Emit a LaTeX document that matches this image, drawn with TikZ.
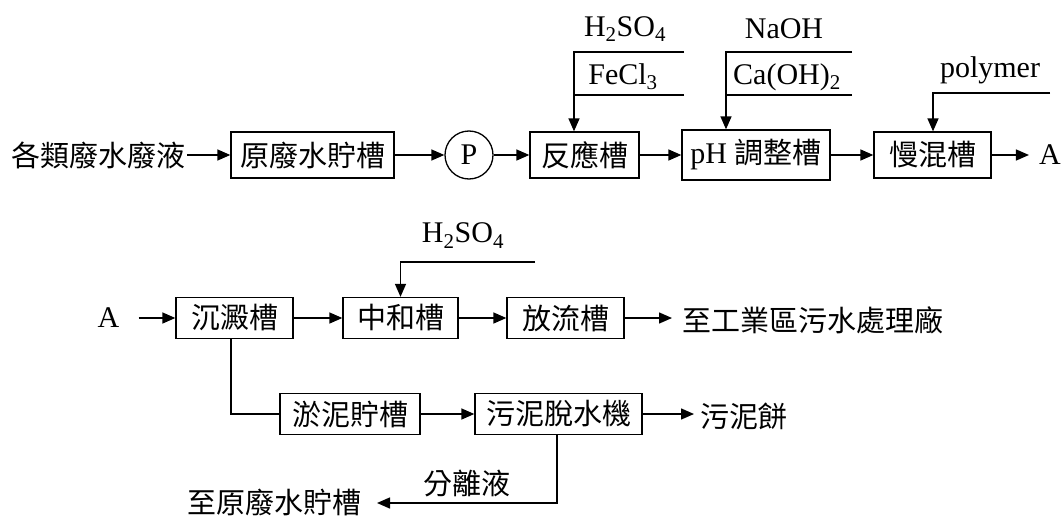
\documentclass[tikz,border=0pt]{standalone}
\usepackage{fontspec}
\setmainfont{Liberation Serif}
\newfontfamily\cjk{Noto Sans CJK TC}
\usetikzlibrary{arrows.meta}
\begin{document}
\begin{tikzpicture}[x=1pt,y=-1pt,
  every node/.style={font=\fontsize{30}{34}\selectfont, inner sep=0pt},
  zh/.style={font=\fontsize{29}{33}\selectfont\cjk},
  tank/.style={draw, line width=1.3pt, minimum height=46pt},
  tanklow/.style={draw, line width=1.3pt, minimum height=41pt},
  flow/.style={line width=1.4pt, -{Triangle[length=13pt,width=11pt]}},
  feed/.style={line width=1.4pt}]
\useasboundingbox (0,0) rectangle (1062,516);

% ---- upper line: pre-treatment ----
\node[zh] (src) at (98,155) {各類廢水廢液};
\node[tank, zh, minimum width=163pt] (raw) at (312.5,155) {原廢水貯槽};
\node[draw, circle, line width=1.3pt, minimum size=48pt] (pump) at (469,155) {P};
\node[tank, zh, minimum width=109pt] (react) at (584.5,155) {反應槽};
\node[tank, minimum width=148pt, minimum height=50pt] (ph) at (756,155) {pH {\fontsize{29}{33}\selectfont\cjk 調整槽}};
\node[tank, zh, minimum width=117pt] (slow) at (932.5,155) {慢混槽};
\node (A1) at (1050,155) {A};

\draw[flow] ([xshift=2pt]src.east) -- (raw.west);
\draw[flow] (raw.east) -- (pump.west);
\draw[flow] (pump.east) -- (react.west);
\draw[flow] (react.east) -- (ph.west);
\draw[flow] (ph.east) -- (slow.west);
\draw[flow] (slow.east) -- ([xshift=-10pt]A1.west);

% chemical dosing
\node (acid1) at (625,29) {H\textsubscript{2}SO\textsubscript{4}};
\node (fecl) at (623,77) {FeCl\textsubscript{3}};
\coordinate (rk) at (574,52);
\coordinate (rr1) at (684,52);
\coordinate (rr2) at (684,95);
\draw[flow] (rr1) -- (rk) -- (rk |- react.north);
\draw[feed] (rr2) -- (rr2 -| rk);

\node (naoh) at (784,29) {NaOH};
\node (caoh) at (787,77) {Ca(OH)\textsubscript{2}};
\coordinate (pk) at (726,52);
\coordinate (pr1) at (852,52);
\coordinate (pr2) at (852,95);
\draw[flow] (pr1) -- (pk) -- (pk |- ph.north);
\draw[feed] (pr2) -- (pr2 -| pk);

\node (poly) at (990,70) {polymer};
\coordinate (mk) at (933,93);
\coordinate (mr) at (1050,93);
\draw[flow] (mr) -- (mk) -- (mk |- slow.north);

% ---- lower line: settling and discharge ----
\node (A2) at (108.5,318) {A};
\node[tanklow, zh, minimum width=117pt] (sed) at (234.5,318) {沉澱槽};
\node[tanklow, zh, minimum width=115pt] (neut) at (400.5,318) {中和槽};
\node[tanklow, zh, minimum width=117pt] (out) at (565.5,318) {放流槽};
\node[zh] (plant) at (813,320) {至工業區污水處理廠};

\coordinate (plantin) at (672,318);
\draw[flow] ([xshift=19pt]A2.east) -- (sed.west);
\draw[flow] (sed.east) -- (neut.west);
\draw[flow] (neut.east) -- (out.west);
\draw[flow] (out.east) -- (plantin);

\node (acid2) at (463,235.5) {H\textsubscript{2}SO\textsubscript{4}};
\coordinate (nk) at (400.5,262);
\coordinate (nr) at (535,262);
\draw[flow] (nr) -- (nk) -- (nk |- neut.north);

% ---- sludge handling ----
\node[tanklow, zh, minimum width=140pt] (store) at (350,414) {淤泥貯槽};
\node[tanklow, zh, minimum width=167pt] (press) at (558.5,414) {污泥脫水機};
\node[zh] (cake) at (744,416) {污泥餅};
\node[zh] (back) at (274.5,502) {至原廢水貯槽};
\node[zh] (filt) at (467,484) {分離液};

\coordinate (cakein) at (694,414);
\coordinate (sk) at (231,414);
\draw[feed] (sed.south -| sk) -- (sk) -- (store.west);
\draw[flow] (store.east) -- (press.west);
\draw[flow] (press.east) -- (cakein);
\coordinate (fk) at (557,503);
\coordinate (backin) at (377,503);
\draw[flow] (press.south -| fk) -- (fk) -- (backin);
\end{tikzpicture}
\end{document}
